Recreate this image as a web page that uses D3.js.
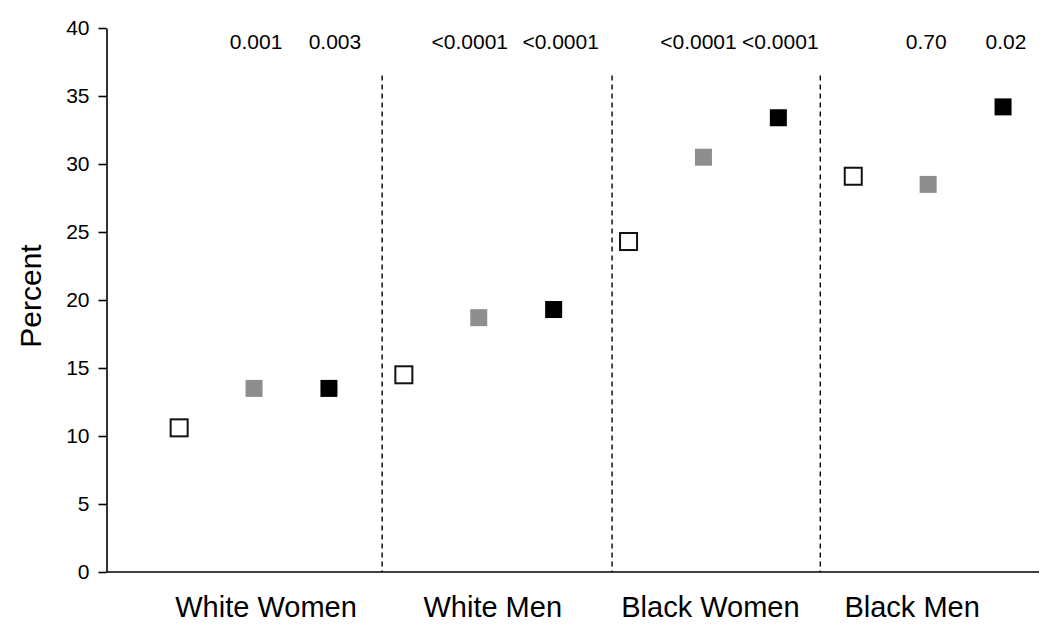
<!DOCTYPE html>
<html>
<head>
<meta charset="utf-8">
<script src="https://cdn.jsdelivr.net/npm/d3@7"></script>
<style>
  body { margin: 0; background: #fff; }
  svg { display: block; }
  text { font-family: Arial, "Liberation Sans", sans-serif; fill: #000; }
</style>
</head>
<body>
<svg class="chart" width="1050" height="642"></svg>
<script>
// data
var groups = ["White Women", "White Men", "Black Women", "Black Men"]
var series = ["open", "gray", "black"]
var openVals  = [10.6, 14.5, 24.3, 29.1]
var grayVals  = [13.5, 18.7, 30.5, 28.5]
var blackVals = [13.5, 19.3, 33.4, 34.2]
var grayP  = ["0.001", "<0.0001", "<0.0001", "0.70"]
var blackP = ["0.003", "<0.0001", "<0.0001", "0.02"]
var yTicks = [0, 5, 10, 15, 20, 25, 30, 35, 40]

// layout
var labelNudge = [12, 14, 7, -16]   // category labels sit a bit off the group centre
var grayPNudge = [2, -9, -5, -2]     // p-values are not quite centred on their markers
var blackPNudge = [6, 7, 2, 3]
var dividerPos = [2.71, 5.78, 8.56]  // in slot units
var markerSize = 17

var svg = d3.select(".chart")

var x = d3.scaleLinear().domain([-0.97, 11.48]).range([106.5, 1039])
var y = d3.scaleLinear().domain([0, 40]).range([572, 28])

var fills = { open: "#fff", gray: "#8e8e8e", black: "#000" }

// build point list
var pts = []
groups.forEach(function(g, gi) {
  [openVals, grayVals, blackVals].forEach(function(arr, si) {
    pts.push({ group: g, s: series[si], slot: gi * 3 + si, v: arr[gi] })
  })
})

// y axis
var yAxis = d3.axisLeft(y)
  .tickValues(yTicks)
  .tickSize(8)
  .tickSizeOuter(0)
  .tickPadding(9)

var gy = svg.append("g")
  .attr("transform", "translate(" + x(-0.97) + ",0)")
  .call(yAxis)
gy.select(".domain").attr("stroke", "#000").attr("stroke-width", 1.6)
gy.selectAll(".tick line").attr("stroke", "#000").attr("stroke-width", 1.6)
gy.selectAll(".tick text")
  .style("font-size", "21px")
  .attr("fill", "#000")
  .style("font-family", "Arial, 'Liberation Sans', sans-serif")

// x axis baseline
svg.append("line")
  .attr("x1", x(-0.97)).attr("x2", x(11.48))
  .attr("y1", y(0)).attr("y2", y(0))
  .attr("stroke", "#000").attr("stroke-width", 1.6)

// dashed dividers
svg.selectAll(".divider")
  .data(dividerPos)
  .enter().append("line")
  .attr("class", "divider")
  .attr("x1", function(d) { return x(d) })
  .attr("x2", function(d) { return x(d) })
  .attr("y1", y(36.5)).attr("y2", y(0))
  .attr("stroke", "#000")
  .attr("stroke-width", 1.4)
  .attr("stroke-dasharray", "5,4")

// markers
svg.selectAll(".pt")
  .data(pts)
  .enter().append("rect")
  .attr("class", "pt")
  .attr("x", function(d) { return x(d.slot) - markerSize / 2 })
  .attr("y", function(d) { return y(d.v) - markerSize / 2 })
  .attr("width", markerSize)
  .attr("height", markerSize)
  .attr("fill", function(d) { return fills[d.s] })
  .attr("stroke", function(d) { return d.s == "open" ? "#111" : "none" })
  .attr("stroke-width", 2)

// p-values
var plabels = []
groups.forEach(function(g, gi) {
  plabels.push({ slot: gi * 3 + 1, t: grayP[gi], dx: grayPNudge[gi] })
  plabels.push({ slot: gi * 3 + 2, t: blackP[gi], dx: blackPNudge[gi] })
})
svg.selectAll(".pval")
  .data(plabels)
  .enter().append("text")
  .attr("class", "pval")
  .attr("x", function(d) { return x(d.slot) + d.dx })
  .attr("y", 49)
  .attr("text-anchor", "middle")
  .style("font-size", "21px")
  .text(function(d) { return d.t })

// category labels
svg.selectAll(".cat")
  .data(groups)
  .enter().append("text")
  .attr("class", "cat")
  .attr("x", function(d, i) { return x(i * 3 + 1) + labelNudge[i] })
  .attr("y", 617)
  .attr("text-anchor", "middle")
  .style("font-size", "29px")
  .text(function(d) { return d })

// y title
svg.append("text")
  .attr("transform", "translate(41," + 296 + ") rotate(-90)")
  .attr("text-anchor", "middle")
  .style("font-size", "30px")
  .text("Percent")
</script>
</body>
</html>
